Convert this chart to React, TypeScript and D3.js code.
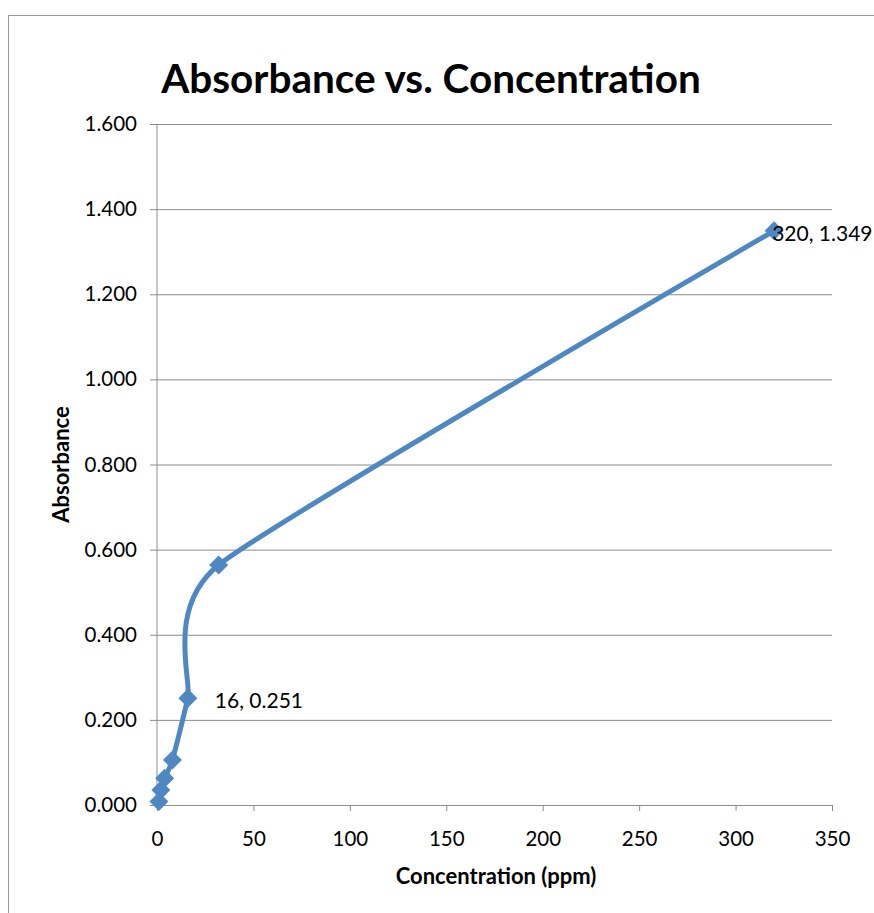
import { useRef, useEffect } from 'react';
import * as d3 from 'd3';

const concentration = [1, 2, 4, 8, 16, 32, 320];
const absorbance = [0.008, 0.035, 0.063, 0.106, 0.251, 0.564, 1.349];
const labeledIndex = [4, 6];
const yTicks = [0, 0.2, 0.4, 0.6, 0.8, 1.0, 1.2, 1.4, 1.6];
const xTicks = [0, 50, 100, 150, 200, 250, 300, 350];

const W = 874;
const H = 913;
const FONT = 'Lato, "Open Sans", sans-serif';
const LINE = '#4f87c2';

export default function App() {
    const svgRef = useRef<SVGSVGElement | null>(null);

    useEffect(() => {
        if (!svgRef.current) return;
        const root = d3.select(svgRef.current);
        root.selectAll('*').remove();

        const margin = { top: 124, right: 42, bottom: 108, left: 157 };
        const innerWidth = W - margin.left - margin.right;
        const innerHeight = H - margin.top - margin.bottom;

        // chart frame
        root.append('rect')
            .attr('x', 8.5).attr('y', 15.5)
            .attr('width', W).attr('height', H)
            .attr('fill', '#fff').attr('stroke', '#9a9a9a');

        root.append('text')
            .attr('x', 431).attr('y', 93)
            .attr('text-anchor', 'middle')
            .style('font-family', FONT).style('font-weight', 'bold').style('font-size', '40.5px')
            .text('Absorbance vs. Concentration');

        const svg = root.append('g')
            .attr('transform', `translate(${margin.left},${margin.top})`);

        const xScale = d3.scaleLinear().domain([0, 350]).range([0, innerWidth]);
        const yScale = d3.scaleLinear().domain([0, 1.6]).range([innerHeight, 0]);

        // gridlines + y axis
        const yAxis = svg.append('g')
            .call(d3.axisLeft(yScale).tickValues(yTicks).tickSize(-innerWidth).tickPadding(20).tickFormat(d3.format('.3f')));
        yAxis.select('.domain').remove();
        yAxis.selectAll('line').attr('stroke', '#8c8c8c').attr('x1', -7);
        yAxis.selectAll('text').style('font-family', FONT).style('font-size', '20.5px').attr('fill', '#000');

        svg.append('line')
            .attr('x1', 0).attr('x2', 0).attr('y1', 0).attr('y2', innerHeight)
            .attr('stroke', '#8c8c8c');

        const xAxis = svg.append('g')
            .attr('transform', `translate(0,${innerHeight})`)
            .call(d3.axisBottom(xScale).tickValues(xTicks).tickSize(6).tickPadding(20).tickSizeOuter(0));
        xAxis.select('.domain').attr('stroke', '#8c8c8c');
        xAxis.selectAll('line').attr('stroke', '#8c8c8c');
        xAxis.selectAll('text').style('font-family', FONT).style('font-size', '20.5px').attr('fill', '#000');

        const data = concentration.map((c, i) => ({ c, a: absorbance[i] }));

        const line = d3.line<{ c: number; a: number }>()
            .x(d => xScale(d.c))
            .y(d => yScale(d.a))
            .curve(d3.curveCardinal.tension(0.45));

        svg.append('path')
            .datum(data)
            .attr('fill', 'none')
            .attr('stroke', LINE)
            .attr('stroke-width', 5)
            .attr('stroke-linecap', 'round')
            .attr('d', line);

        svg.selectAll('.marker')
            .data(data)
            .enter().append('path')
            .attr('class', 'marker')
            .attr('transform', d => `translate(${xScale(d.c)},${yScale(d.a)})`)
            .attr('d', 'M0,-9.5L9.5,0L0,9.5L-9.5,0Z')
            .attr('fill', LINE);

        svg.selectAll('.lbl')
            .data(labeledIndex.map(i => data[i]))
            .enter().append('text')
            .attr('class', 'lbl')
            .attr('x', d => xScale(d.c) + (d.c > 300 ? -2 : 27))
            .attr('y', d => yScale(d.a) + 10)
            .style('font-family', FONT).style('font-size', '21px')
            .text(d => `${d.c}, ${d.a.toFixed(3)}`);

        root.append('text')
            .attr('transform', `translate(69,${margin.top + innerHeight / 2}) rotate(-90)`)
            .attr('text-anchor', 'middle')
            .style('font-family', FONT).style('font-weight', 'bold').style('font-size', '22px')
            .text('Absorbance');

        root.append('text')
            .attr('x', 496).attr('y', 884)
            .attr('text-anchor', 'middle')
            .style('font-family', FONT).style('font-weight', 'bold').style('font-size', '22px')
            .text('Concentration (ppm)');
    }, []);

    return (
        <svg ref={svgRef} width={W} height={H} style={{ position: 'absolute', left: 0, top: 0 }} />
    );
}
